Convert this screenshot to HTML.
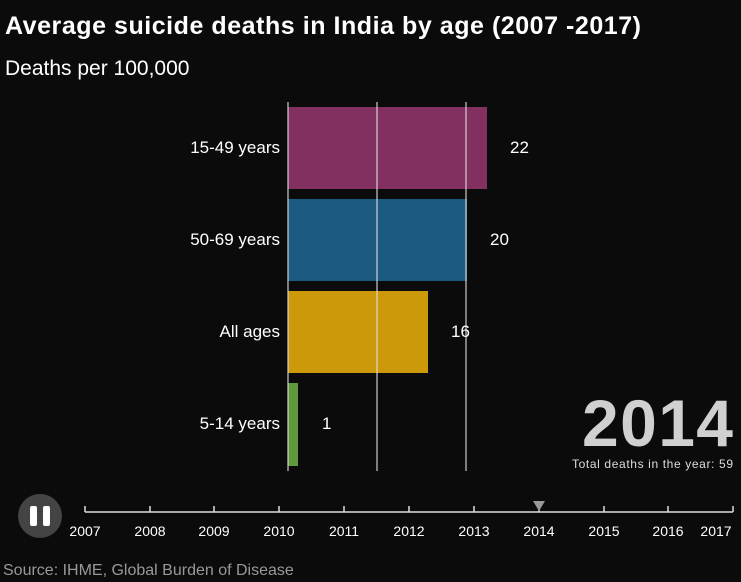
<!DOCTYPE html><html><head><style>
body{margin:0;background:#0b0b0b;width:741px;height:582px;overflow:hidden;font-family:"Liberation Sans",sans-serif;color:#fff}
</style></head><body>
<svg width="741" height="582" xmlns="http://www.w3.org/2000/svg" style="position:absolute;left:0;top:0">
<rect width="741" height="582" fill="#0b0b0b"/>
<text x="5" y="34" font-size="25" font-weight="bold" fill="#fff" textLength="636">Average suicide deaths in India by age (2007 -2017)</text>
<text x="5" y="75" font-size="21" fill="#fff">Deaths per 100,000</text>
<rect x="288" y="107" width="199" height="82" fill="#82305f"/>
<rect x="288" y="199" width="179" height="82" fill="#1d5a82"/>
<rect x="288" y="291" width="140" height="82" fill="#cc990a"/>
<rect x="288" y="383" width="10" height="83" fill="#5e9a3c"/>
<g stroke="#ddd" stroke-width="1.3" opacity="0.85"><line x1="288" y1="102" x2="288" y2="471"/><line x1="377" y1="102" x2="377" y2="471"/><line x1="466" y1="102" x2="466" y2="471"/></g>
<g font-size="17" fill="#fff" text-anchor="end"><text x="280" y="153">15-49 years</text><text x="280" y="245">50-69 years</text><text x="280" y="337">All ages</text><text x="280" y="429">5-14 years</text></g>
<g font-size="17" fill="#fff"><text x="510" y="153">22</text><text x="490" y="245">20</text><text x="451" y="337">16</text><text x="322" y="429">1</text></g>
<text x="582" y="446" font-size="66" font-weight="bold" fill="#d0d0d0" textLength="151">2014</text>
<text x="572" y="468" font-size="12" fill="#ddd" textLength="161">Total deaths in the year: 59</text>
<circle cx="40" cy="516" r="22" fill="#444"/>
<rect x="30" y="506" width="7" height="20" rx="2" fill="#fff"/><rect x="43" y="506" width="7" height="20" rx="2" fill="#fff"/>
<g stroke="#ddd" stroke-width="1.5"><line x1="85" y1="512" x2="733" y2="512"/>
<line x1="85" y1="506" x2="85" y2="512"/><line x1="150" y1="506" x2="150" y2="512"/><line x1="214" y1="506" x2="214" y2="512"/><line x1="279" y1="506" x2="279" y2="512"/><line x1="344" y1="506" x2="344" y2="512"/><line x1="409" y1="506" x2="409" y2="512"/><line x1="474" y1="506" x2="474" y2="512"/><line x1="539" y1="506" x2="539" y2="512"/><line x1="604" y1="506" x2="604" y2="512"/><line x1="668" y1="506" x2="668" y2="512"/><line x1="733" y1="506" x2="733" y2="512"/></g>
<polygon points="533,501 545,501 539,511" fill="#999"/>
<g font-size="14" fill="#fff" text-anchor="middle"><text x="85" y="536">2007</text><text x="150" y="536">2008</text><text x="214" y="536">2009</text><text x="279" y="536">2010</text><text x="344" y="536">2011</text><text x="409" y="536">2012</text><text x="474" y="536">2013</text><text x="539" y="536">2014</text><text x="604" y="536">2015</text><text x="668" y="536">2016</text><text x="716" y="536">2017</text></g>
<text x="3" y="575" font-size="16" fill="#999">Source: IHME, Global Burden of Disease</text>
</svg>
</body></html>
